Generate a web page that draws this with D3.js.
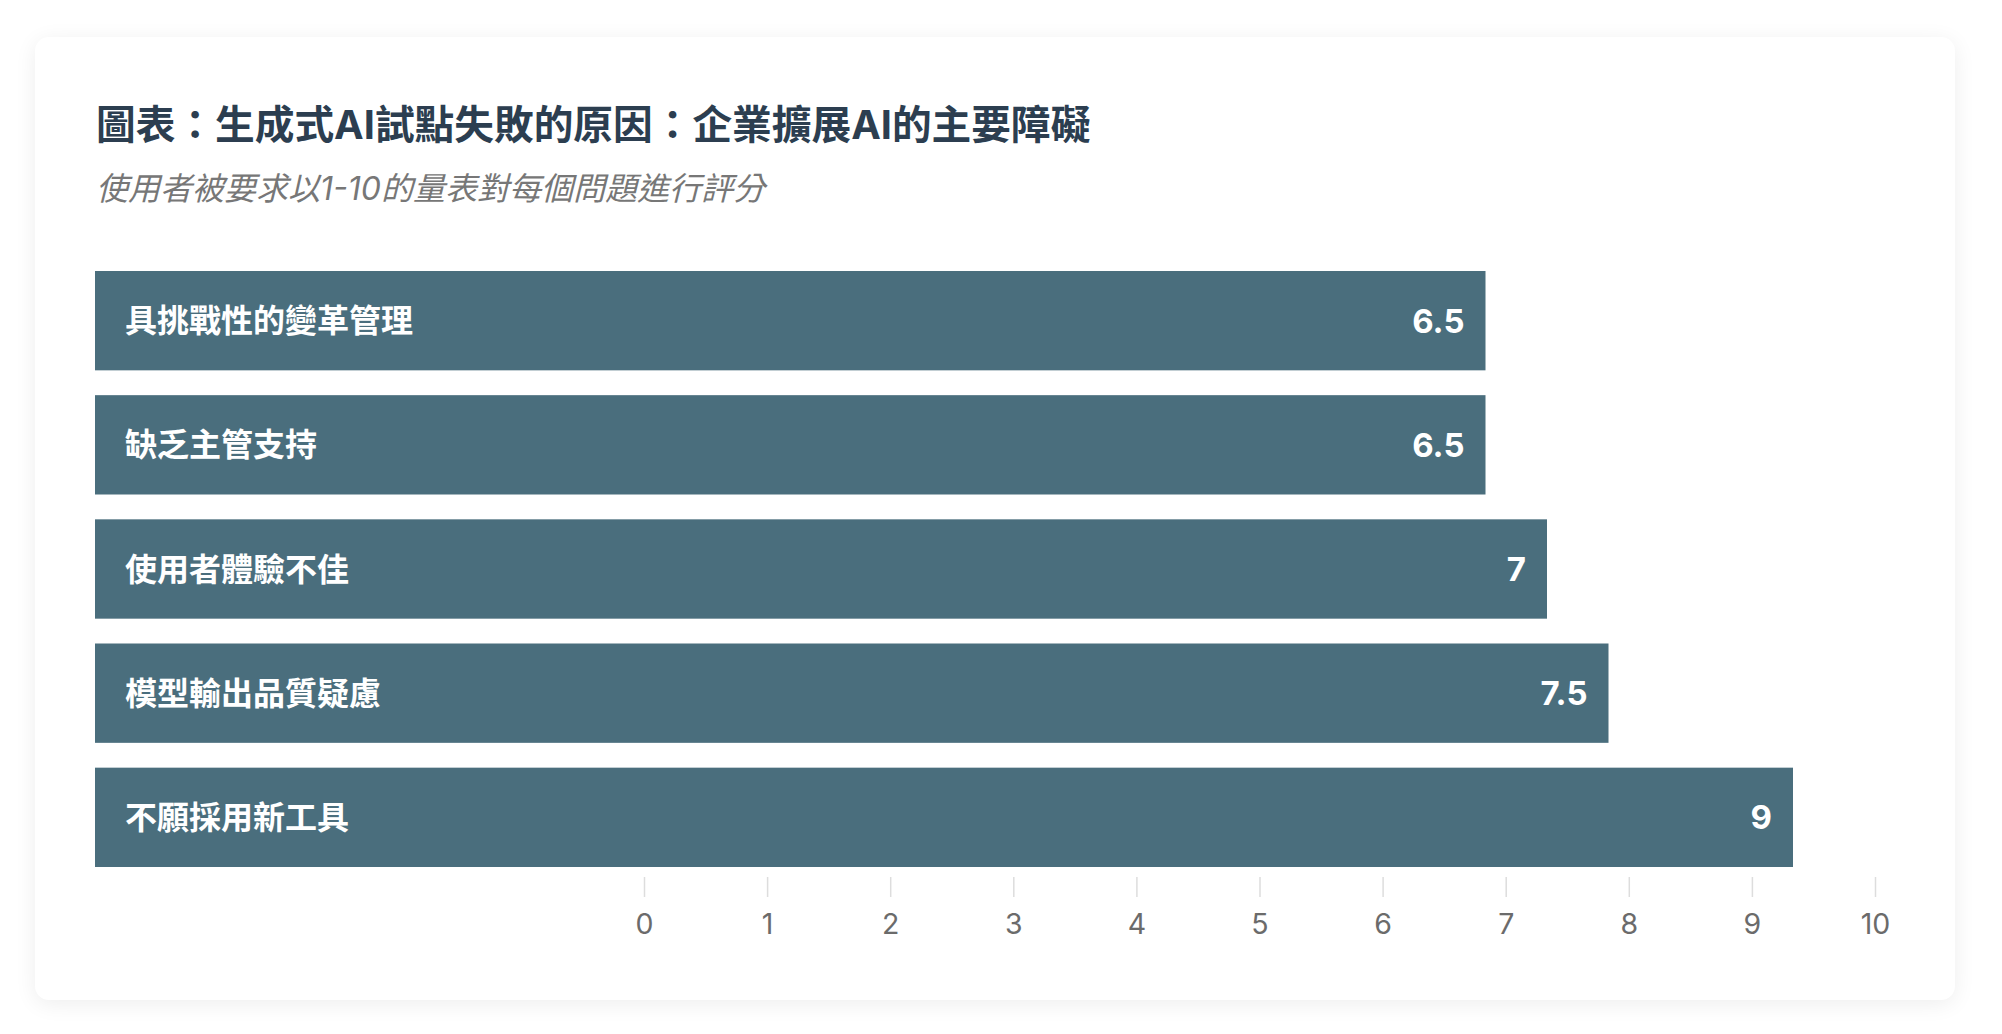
<!DOCTYPE html>
<html lang="zh-Hant">
<head>
  <meta charset="utf-8">
  <title>生成式AI試點失敗的原因</title>
  <script src="https://d3js.org/d3.v7.min.js"></script>
  <style>
    html, body { margin:0; padding:0; background:#fff; width:2002px; height:1034px; overflow:hidden; }
    #card { position:absolute; left:35px; top:37px; width:1920px; height:963px; background:#fff;
            border-radius:14px; box-shadow:0 4px 22px rgba(0,0,0,0.07); }
    #chart { position:absolute; left:0; top:0; }
    text { font-family: "Inter", "Noto Sans CJK TC", sans-serif; }
  </style>
</head>
<body>
  <div id="card"></div>
  <svg id="chart" width="2002" height="1034"></svg>
  <script>
    // ─── Data ─────────────────────────────────────────────────────────────────
    const title      = "圖表：生成式AI試點失敗的原因：企業擴展AI的主要障礙";
    const subtitle   = "使用者被要求以1-10的量表對每個問題進行評分";
    const categories = ["具挑戰性的變革管理", "缺乏主管支持", "使用者體驗不佳", "模型輸出品質疑慮", "不願採用新工具"];
    const scores     = [6.5, 6.5, 7, 7.5, 9];
    const tickValues = [0, 1, 2, 3, 4, 5, 6, 7, 8, 9, 10];
    // ───────────────────────────────────────────────────────────────────────────

    const svg = d3.select("#chart");
    const barLeft = 95;

    // Title + subtitle
    svg.append("text")
      .attr("x", 96).attr("y", 125)
      .attr("dominant-baseline", "central")
      .style("font-size", "39.7px").style("font-weight", 700)
      .style("fill", "#2c3e50")
      .text(title);
    svg.append("text")
      .attr("x", 96).attr("y", 188)
      .attr("dominant-baseline", "central")
      .style("font-size", "32px").style("font-style", "italic")
      .style("fill", "#777")
      .text(subtitle);

    // Scales
    const y = d3.scaleBand()
      .domain(categories)
      .range([271, 867])
      .paddingInner(0.2);
    const xBar = d3.scaleLinear().domain([0, 10]).range([686, 1916]);
    const xAxis = d3.scaleLinear().domain([0, 10]).range([644, 1875]);

    const rows = categories.map((c, i) => ({ name: c, value: scores[i] }));

    // Bars
    svg.append("g").selectAll("rect")
      .data(rows)
      .join("rect")
        .attr("x", barLeft)
        .attr("y", d => y(d.name))
        .attr("width", d => xBar(d.value) - barLeft)
        .attr("height", y.bandwidth())
        .attr("fill", "#4a6e7d");

    // Category labels inside bars
    svg.append("g").selectAll("text")
      .data(rows)
      .join("text")
        .attr("x", barLeft + 30)
        .attr("y", d => y(d.name) + y.bandwidth() / 2)
        .attr("dominant-baseline", "central")
        .style("font-size", "32px").style("font-weight", 700)
        .style("fill", "#fff")
        .text(d => d.name);

    // Value labels
    svg.append("g").selectAll("text")
      .data(rows)
      .join("text")
        .attr("x", d => xBar(d.value) - 21)
        .attr("y", d => y(d.name) + y.bandwidth() / 2)
        .attr("dominant-baseline", "central")
        .attr("text-anchor", "end")
        .style("font-size", "33px").style("font-weight", 700)
        .style("fill", "#fff")
        .text(d => d.value);

    // Axis
    const ax = svg.append("g")
      .attr("transform", "translate(0,877)")
      .call(d3.axisBottom(xAxis).tickValues(tickValues).tickSize(20).tickFormat(d3.format("d")));
    ax.select(".domain").remove();
    ax.selectAll(".tick line").attr("stroke", "#ddd").attr("stroke-width", 1.5);
    ax.selectAll(".tick text")
      .attr("y", 57).attr("dy", 0)
      .style("font-size", "28.5px")
      .style("font-family", "Inter, sans-serif")
      .attr("fill", "#6b6b6b");
  </script>
</body>
</html>
